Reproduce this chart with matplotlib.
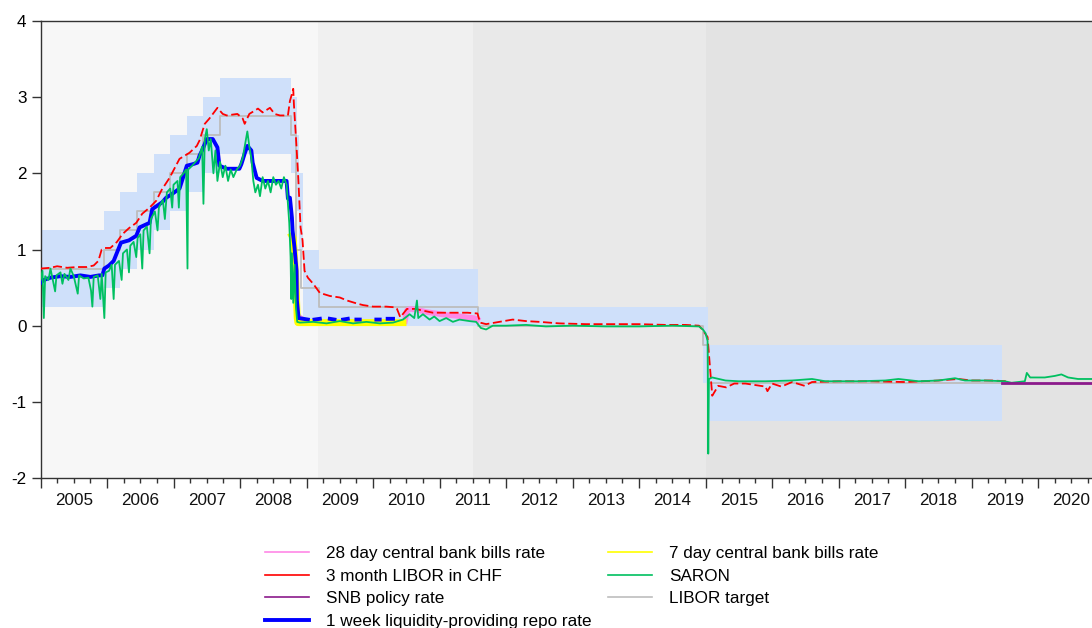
import numpy as np
import matplotlib
matplotlib.use("Agg")
import matplotlib.pyplot as plt
from matplotlib.lines import Line2D

plt.rcParams['font.family'] = ['Liberation Sans', 'DejaVu Sans']

nan = np.nan

# ------------------------------
# Data (decimal years, percent)
# ------------------------------

# LIBOR target range (band) - start of each step, low, high
band_start = [2005.0, 2005.95, 2006.20, 2006.45, 2006.70, 2006.95, 2007.20, 2007.45,
              2007.70, 2008.77, 2008.85, 2008.89, 2008.95, 2009.19, 2011.58, 2014.96, 2015.04]
band_end = band_start[1:] + [2019.46]
band_low = [0.25, 0.5, 0.75, 1.0, 1.25, 1.5, 1.75, 2.0, 2.25, 2.0, 1.5, 1.0, 0.0, 0.0, 0.0, -0.75, -1.25]
band_high = [1.25, 1.5, 1.75, 2.0, 2.25, 2.5, 2.75, 3.0, 3.25, 3.0, 2.5, 2.0, 1.0, 0.75, 0.25, 0.25, -0.25]

# LIBOR target (steps)
target_t = [2005.0, 2005.95, 2006.20, 2006.45, 2006.70, 2006.95, 2007.20, 2007.45, 2007.70,
            2008.76, 2008.84, 2008.91, 2009.19, 2011.58, 2014.96, 2015.04, 2019.46]
target_v = [0.75, 1.0, 1.25, 1.5, 1.75, 2.0, 2.25, 2.5, 2.75,
            2.5, 1.0, 0.5, 0.25, 0.0, -0.25, -0.75, -0.75]

# SNB policy rate
snb_t = [2019.46, 2020.85]
snb_v = [-0.75, -0.75]

# 3 month LIBOR in CHF
libor_t = [2005.00, 2005.15, 2005.25, 2005.40, 2005.55, 2005.70, 2005.80, 2005.87, 2005.92, 2005.97,
           2006.05, 2006.15, 2006.23, 2006.33, 2006.44, 2006.53, 2006.64, 2006.74, 2006.82, 2006.94,
           2007.09, 2007.24, 2007.35, 2007.39, 2007.47, 2007.54, 2007.66, 2007.74, 2007.80, 2007.96,
           2008.04, 2008.07, 2008.14, 2008.27, 2008.34, 2008.45, 2008.52, 2008.60, 2008.72, 2008.75,
           2008.78, 2008.80, 2008.81, 2008.85, 2008.87, 2008.88, 2008.91, 2008.94, 2008.97, 2009.02,
           2009.10, 2009.20, 2009.35, 2009.50, 2009.61, 2009.76, 2009.85, 2010.00, 2010.20, 2010.34,
           2010.36, 2010.41, 2010.51, 2010.63, 2010.90, 2011.20, 2011.42, 2011.57, 2011.61, 2011.70,
           2011.90, 2012.10, 2012.30, 2012.50, 2012.80, 2013.20, 2013.60, 2014.00, 2014.40, 2014.70,
           2014.90, 2014.95, 2014.99, 2015.03, 2015.10, 2015.19, 2015.31, 2015.43, 2015.60, 2015.90,
           2015.93, 2016.00, 2016.14, 2016.30, 2016.49, 2016.60, 2017.00, 2017.50, 2018.00, 2018.50,
           2018.80, 2019.00, 2019.30, 2019.55]
libor_v = [0.75, 0.76, 0.78, 0.76, 0.77, 0.77, 0.79, 0.85, 1.00, 1.02,
           1.02, 1.10, 1.20, 1.28, 1.35, 1.47, 1.55, 1.64, 1.78, 1.94,
           2.19, 2.27, 2.36, 2.43, 2.65, 2.72, 2.86, 2.78, 2.76, 2.78,
           2.72, 2.65, 2.78, 2.85, 2.80, 2.86, 2.78, 2.76, 2.76, 2.95,
           3.04, 3.11, 2.91, 2.34, 2.03, 1.86, 1.29, 1.12, 0.72, 0.63,
           0.55, 0.43, 0.39, 0.37, 0.33, 0.29, 0.27, 0.25, 0.25, 0.24,
           0.22, 0.11, 0.22, 0.22, 0.17, 0.17, 0.17, 0.16, 0.04, 0.02,
           0.05, 0.08, 0.06, 0.05, 0.03, 0.02, 0.02, 0.02, 0.01, 0.01,
           0.00, -0.05, -0.10, -0.15, -0.92, -0.79, -0.81, -0.76, -0.76, -0.80,
           -0.86, -0.76, -0.80, -0.74, -0.79, -0.74, -0.73, -0.73, -0.74, -0.72,
           -0.70, -0.72, -0.72, -0.73]

# SARON
saron_t = [2005.00, 2005.03, 2005.05, 2005.07, 2005.12, 2005.15, 2005.18, 2005.22, 2005.24, 2005.30,
           2005.33, 2005.36, 2005.42, 2005.45, 2005.50, 2005.56, 2005.58, 2005.65, 2005.72, 2005.76,
           2005.78, 2005.80, 2005.86, 2005.90, 2005.92, 2005.96, 2005.98, 2006.03, 2006.07, 2006.10,
           2006.12, 2006.18, 2006.22, 2006.24, 2006.30, 2006.33, 2006.35, 2006.40, 2006.44, 2006.46,
           2006.50, 2006.53, 2006.55, 2006.60, 2006.64, 2006.66, 2006.72, 2006.76, 2006.78, 2006.84,
           2006.87, 2006.90, 2006.95, 2006.98, 2007.00, 2007.06, 2007.08, 2007.10, 2007.15, 2007.19,
           2007.21, 2007.22, 2007.28, 2007.33, 2007.38, 2007.43, 2007.45, 2007.47, 2007.50, 2007.53,
           2007.56, 2007.60, 2007.63, 2007.66, 2007.70, 2007.74, 2007.78, 2007.82, 2007.86, 2007.90,
           2007.95, 2008.00, 2008.04, 2008.08, 2008.11, 2008.14, 2008.17, 2008.20, 2008.23, 2008.27,
           2008.30, 2008.34, 2008.38, 2008.42, 2008.46, 2008.50, 2008.54, 2008.58, 2008.62, 2008.66,
           2008.70, 2008.72, 2008.74, 2008.76, 2008.77, 2008.78, 2008.80, 2008.82, 2008.84, 2008.86,
           2008.90, 2009.10, 2009.30, 2009.50, 2009.70, 2009.90, 2010.10, 2010.30, 2010.45, 2010.55,
           2010.62, 2010.66, 2010.68, 2010.75, 2010.85, 2010.92, 2011.00, 2011.10, 2011.20, 2011.30,
           2011.45, 2011.55, 2011.62, 2011.70, 2011.80, 2012.00, 2012.30, 2012.60, 2013.00, 2013.50,
           2014.00, 2014.50, 2014.90, 2014.96, 2015.00, 2015.03, 2015.04, 2015.05, 2015.10, 2015.30,
           2015.50, 2015.90, 2016.30, 2016.60, 2016.80, 2017.30, 2017.70, 2017.90, 2018.20, 2018.50,
           2018.75, 2018.90, 2019.20, 2019.50, 2019.60, 2019.80, 2019.83, 2019.88, 2019.95, 2020.10,
           2020.25, 2020.35, 2020.45, 2020.60, 2020.85]
saron_v = [0.60, 0.72, 0.10, 0.65, 0.60, 0.75, 0.62, 0.45, 0.66, 0.70,
           0.55, 0.68, 0.60, 0.75, 0.65, 0.42, 0.66, 0.62, 0.63, 0.46,
           0.25, 0.64, 0.66, 0.35, 0.68, 0.10, 0.70, 0.72, 0.80, 0.35,
           0.80, 0.85, 0.60, 0.95, 1.00, 0.70, 1.05, 1.10, 0.90, 1.15,
           1.20, 0.75, 1.25, 1.30, 0.95, 1.40, 1.50, 1.25, 1.55, 1.65,
           1.40, 1.75, 1.80, 1.55, 1.85, 1.90, 1.55, 1.95, 2.00, 2.05,
           0.75, 2.05, 2.10, 2.15, 2.20, 2.35, 1.60, 2.45, 2.58, 2.30,
           2.45, 2.00, 2.30, 1.90, 2.15, 1.95, 2.10, 1.90, 2.05, 1.95,
           2.05, 2.10, 2.20, 2.40, 2.55, 2.35, 2.20, 1.90, 1.75, 1.85,
           1.70, 1.95, 1.80, 1.90, 1.75, 1.95, 1.85, 1.90, 1.80, 1.95,
           1.85, 1.60, 1.35, 0.90, 0.35, 0.95, 0.30, 0.80, 0.25, 0.05,
           0.04, 0.05, 0.03, 0.06, 0.03, 0.05, 0.03, 0.04, 0.08, 0.15,
           0.10, 0.33, 0.10, 0.15, 0.08, 0.12, 0.06, 0.10, 0.05, 0.08,
           0.06, 0.05, -0.03, -0.05, 0.00, 0.00, 0.01, -0.01, 0.00, -0.01,
           -0.01, 0.00, -0.01, -0.05, -0.10, -0.20, -1.68, -0.70, -0.68, -0.72,
           -0.73, -0.73, -0.72, -0.70, -0.73, -0.73, -0.72, -0.70, -0.73, -0.72,
           -0.69, -0.72, -0.72, -0.73, -0.75, -0.73, -0.62, -0.68, -0.68, -0.68,
           -0.66, -0.64, -0.68, -0.70, -0.70]

# 1 week liquidity-providing repo rate (gaps = missing)
repo_t = [2005.00, 2005.05, 2005.15, 2005.30, 2005.45, 2005.60, 2005.75, 2005.88, 2005.93, 2005.96,
          2006.03, 2006.10, 2006.21, 2006.33, 2006.44, 2006.49, 2006.64, 2006.68, 2006.83, 2006.89,
          2006.98, 2007.09, 2007.20, 2007.29, 2007.36, 2007.39, 2007.44, 2007.50, 2007.59, 2007.66,
          2007.69, 2007.80, 2007.99, 2008.02, 2008.07, 2008.11, 2008.17, 2008.19, 2008.25, 2008.34,
          2008.70, 2008.72, 2008.75, 2008.78, 2008.79, 2008.82, 2008.85, 2008.855, 2008.88, 2008.95,
          2009.02, 2009.05, 2009.12, 2009.20, 2009.25, 2009.35, 2009.42, 2009.47, 2009.55, 2009.62,
          2009.66, 2009.75, 2009.80, 2009.90, 2010.05, 2010.10, 2010.15, 2010.22, 2010.30]
repo_v = [0.56, 0.60, 0.63, 0.65, 0.64, 0.66, 0.64, 0.66, 0.66, 0.75,
          0.79, 0.85, 1.09, 1.12, 1.18, 1.29, 1.35, 1.53, 1.62, 1.68,
          1.73, 1.80, 2.10, 2.12, 2.14, 2.23, 2.32, 2.45, 2.45, 2.34,
          2.10, 2.06, 2.06, 2.12, 2.26, 2.36, 2.30, 2.14, 1.94, 1.90,
          1.90, 1.67, 1.68, 1.42, 1.25, 1.02, 0.72, 0.33, 0.10, 0.09,
          0.08, nan, 0.08, 0.09, nan, 0.09, 0.08, nan, 0.08, 0.09,
          nan, 0.08, 0.08, nan, 0.08, 0.08, nan, 0.09, 0.09]

# 7 day central bank bills rate
bills7_t = [2008.78, 2008.80, 2008.82, 2008.84, 2008.86, 2008.87, 2009.20, 2009.60, 2010.00, 2010.45]
bills7_v = [1.18, 1.15, 0.88, 0.55, 0.10, 0.04, 0.04, 0.04, 0.04, 0.04]

# 28 day central bank bills rate
bills28_t = [2008.88, 2008.91, 2008.92, 2010.48, 2010.51, 2010.56, 2010.66, 2010.80, 2010.95,
             2011.10, 2011.25, 2011.40, 2011.52, 2011.57]
bills28_v = [0.12, 0.10, nan, 0.06, 0.20, 0.22, 0.21, 0.18, 0.16,
             0.14, 0.13, 0.11, 0.10, 0.08]

# background regimes
regime_edges = [2005.0, 2009.17, 2011.51, 2015.0, 2020.85]
regime_colors = ['#f7f7f7', '#f0f0f0', '#e9e9e9', '#e3e3e3']

years = list(range(2005, 2021))

# ------------------------------
# Plot
# ------------------------------

fig = plt.figure(figsize=(10.92, 6.28), dpi=100)
ax = fig.add_axes([40.5 / 1092, 1 - 478 / 628, (1092 - 40.5) / 1092, (478 - 21) / 628])

for i in range(len(regime_colors)):
    ax.axvspan(regime_edges[i], regime_edges[i + 1], color=regime_colors[i], lw=0, zorder=0)

for s, e, lo, hi in zip(band_start, band_end, band_low, band_high):
    ax.fill_between([s, e], [lo, lo], [hi, hi], color='#cfe0fa', lw=0, zorder=1)

ax.plot(target_t, target_v, drawstyle='steps-post', color='#bdbdbd', lw=1.3, zorder=2)
ax.plot(bills28_t, bills28_v, color='#ff88e6', lw=4, zorder=3)
ax.plot(bills7_t, bills7_v, color='#ffff00', lw=5, zorder=3)
ax.plot(repo_t, repo_v, color='#0000ff', lw=2.8, zorder=4)
ax.plot(libor_t, libor_v, color='#ff0000', lw=1.3, ls=(0, (5, 2)), zorder=5)
ax.plot(saron_t, saron_v, color='#00c060', lw=1.3, zorder=6)
ax.plot(snb_t, snb_v, color='#8b1a8b', lw=2, zorder=7)

ax.spines['right'].set_visible(False)
for sp in ['left', 'top', 'bottom']:
    ax.spines[sp].set_color('#333333')
    ax.spines[sp].set_linewidth(1.0)

ax.set_xticks(years)
ax.set_xticklabels([])
ax.set_xticks(np.arange(2005, 2020.8, 0.25), minor=True)
ax.tick_params(axis='x', which='major', direction='out', length=7.5, width=1, color='#333333')
ax.tick_params(axis='x', which='minor', direction='out', length=3.8, width=1, color='#333333')

ax.set_yticks([-2, -1, 0, 1, 2, 3, 4])
ax.set_yticklabels(['-2', '-1', '0', '1', '2', '3', '4'])
ax.tick_params(axis='y', direction='out', length=6.5, width=1, color='#333333', labelsize=12.3, pad=3.6)

ax.set_xlim(2005.0, 2020.81)
ax.set_ylim(-2, 4)

for y in years:
    ax.text(y + 0.5, -0.049, str(y), transform=ax.get_xaxis_transform(),
            ha='center', va='center', fontsize=12.3, color='#111111')

handles = [
    Line2D([], [], color='#ff88e6', lw=1.2),
    Line2D([], [], color='#ff0000', lw=1.2),
    Line2D([], [], color='#8b1a8b', lw=1.2),
    Line2D([], [], color='#0000ff', lw=2.8),
    Line2D([], [], color='#ffff00', lw=1.2),
    Line2D([], [], color='#00c060', lw=1.2),
    Line2D([], [], color='#bdbdbd', lw=1.2),
]
labels = ['28 day central bank bills rate', '3 month LIBOR in CHF', 'SNB policy rate',
          '1 week liquidity-providing repo rate', '7 day central bank bills rate', 'SARON',
          'LIBOR target']
fig.legend(handles, labels, ncol=2, loc='upper left', bbox_to_anchor=(265 / 1092, 1 - 546 / 628),
           frameon=False, fontsize=12.3, handlelength=2.6, handletextpad=1.0, columnspacing=0.9,
           labelspacing=0.45, borderpad=0, borderaxespad=0)

plt.savefig('out.png', dpi=100)
